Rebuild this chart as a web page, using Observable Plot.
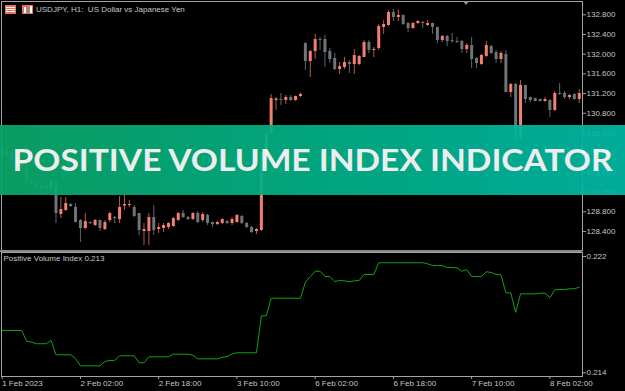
<!DOCTYPE html>
<html><head><meta charset="utf-8">
<script src="https://cdn.jsdelivr.net/npm/d3@7"></script>
<script src="https://cdn.jsdelivr.net/npm/@observablehq/plot@0.6"></script>
<style>
html,body{margin:0;padding:0;background:#000;width:625px;height:391px;overflow:hidden;}
#wrap{position:relative;width:625px;height:391px;font-family:"Liberation Sans",Arial,sans-serif;}
#top,#bottom{position:absolute;left:0;}
#top{top:0}#bottom{top:250px}
#sep{position:absolute;left:0;top:250px;width:582px;height:2px;background:#8a8a8a;}
#hdr{position:absolute;left:36px;top:5px;color:#c8c8c8;font-size:8px;line-height:10px;white-space:pre;}
#icons{position:absolute;left:5px;top:5px;}
#tri{position:absolute;left:463px;top:1px;width:0;height:0;border-left:3px solid transparent;border-right:3px solid transparent;border-top:4px solid #9a9a9a;}
#banner{position:absolute;left:0;top:125px;width:625px;height:70px;background:linear-gradient(90deg,#0aa86a 0%,#03b187 50%,#00b8a5 100%);opacity:.93;}
</style></head>
<body><div id="wrap">
<div id="top"></div><div id="bottom"></div><div id="sep"></div>
<svg id="icons" width="30" height="10">
  <rect x="0" y="0" width="11" height="9" fill="#e8705f"/>
  <rect x="1" y="2" width="9" height="1" fill="#fff"/><rect x="1" y="4" width="9" height="1" fill="#fff"/><rect x="1" y="6" width="9" height="1" fill="#fff"/>
  <rect x="17" y="0" width="11" height="9" fill="#e8705f"/>
  <rect x="19" y="2" width="2" height="6" fill="#fff"/><rect x="22" y="4" width="2" height="4" fill="#2bb6a8"/><rect x="25" y="1" width="2" height="7" fill="#fff"/>
</svg>
<div id="hdr"></div>
<div id="tri"></div>
<div id="banner"><svg width="625" height="70"><text x="312.5" y="46" text-anchor="middle" textLength="600" lengthAdjust="spacingAndGlyphs" fill="#fff" font-family="Lato, 'Open Sans', sans-serif" font-weight="700" font-size="30.5">POSITIVE VOLUME INDEX INDICATOR</text></svg></div>
</div>
<script>
const headerText = "USDJPY, H1:  US Dollar vs Japanese Yen";
const indicatorLabel = "Positive Volume Index 0.213";
const priceTicks = [128.4, 128.8, 129.2, 129.6, 130.0, 130.4, 130.8, 131.2, 131.6, 132.0, 132.4, 132.8];
const pviTicks = [0.222, 0.214];
const tickIdx = [0, 16, 32, 48, 64, 80, 96, 112];
const tickLabels = ["1 Feb 2023", "2 Feb 02:00", "2 Feb 18:00", "3 Feb 10:00", "6 Feb 02:00", "6 Feb 18:00", "7 Feb 10:00", "8 Feb 02:00"];

const open = [
130.05,129.95,130.00,129.85,129.80,129.72,129.40,129.35,129.28,129.31,
129.27,129.40,128.745,128.826,128.948,128.887,128.623,128.460,128.582,128.521,
128.623,128.440,128.623,128.684,128.643,128.917,128.927,128.887,128.765,128.399,
128.399,128.684,128.440,128.460,128.480,128.501,128.623,128.765,128.684,128.643,
128.765,128.623,128.724,128.582,128.541,128.562,128.602,128.562,128.582,128.704,
128.562,128.480,128.399,128.42,130.00,130.40,131.06,131.080,131.060,131.121,
131.060,131.141,132.217,131.852,132.055,132.298,132.298,132.055,131.913,131.689,
131.730,131.831,131.791,131.791,131.933,132.238,132.075,132.116,132.542,132.583,
132.847,132.745,132.786,132.623,132.522,132.623,132.644,132.583,132.623,132.542,
132.278,132.359,132.278,132.258,132.258,132.095,132.177,131.913,131.791,131.953,
132.156,132.034,131.892,131.994,131.222,131.385,130.30,131.364,131.121,131.100,
131.080,131.040,131.060,130.857,131.202,131.202,131.121,131.182,131.080];
const close = [
129.95,130.02,129.85,129.80,129.72,129.40,129.35,129.28,129.31,129.27,
129.42,128.765,128.846,128.968,128.907,128.582,128.460,128.602,128.562,128.623,
128.460,128.582,128.765,128.663,128.887,128.948,128.948,128.704,128.419,128.440,
128.684,128.419,128.480,128.521,128.562,128.663,128.765,128.684,128.643,128.765,
128.582,128.745,128.562,128.541,128.582,128.643,128.562,128.643,128.724,128.562,
128.480,128.379,128.440,130.00,130.38,131.100,131.09,131.060,131.121,131.060,
131.141,131.182,131.852,132.055,132.298,132.278,132.034,131.892,131.689,131.750,
131.831,131.791,131.974,131.953,132.238,132.075,132.095,132.562,132.603,132.847,
132.745,132.786,132.603,132.522,132.623,132.664,132.623,132.623,132.542,132.278,
132.359,132.258,132.258,132.238,132.095,132.177,131.892,131.811,131.974,132.177,
132.014,131.892,132.014,131.222,131.385,130.30,131.364,131.080,131.060,131.040,
131.040,131.080,130.857,131.202,131.182,131.121,131.161,131.080,131.202];
const high = [
130.12,130.08,130.03,129.90,129.86,129.76,129.45,129.40,129.33,129.35,
129.48,129.45,129.090,129.090,128.968,128.968,128.643,128.765,128.602,128.643,
128.633,128.623,128.785,128.704,129.110,129.131,129.029,128.927,128.765,128.562,
128.765,128.927,128.562,128.562,128.582,128.684,128.785,128.826,128.704,128.785,
128.806,128.785,128.745,128.592,128.602,128.663,128.623,128.684,128.745,128.724,
128.582,128.501,128.460,130.05,130.45,131.182,131.12,131.202,131.161,131.161,
131.15,131.21,132.23,132.075,132.400,132.339,132.380,132.116,132.014,131.831,
131.933,131.872,132.095,131.974,132.278,132.278,132.136,132.603,132.684,132.887,
132.908,132.897,132.80,132.644,132.644,132.684,132.664,132.684,132.63,132.55,
132.380,132.380,132.420,132.339,132.278,132.217,132.339,131.933,131.994,132.258,
132.177,132.075,132.055,132.075,131.405,131.405,131.466,131.37,131.13,131.11,
131.09,131.121,131.080,131.242,131.405,131.242,131.182,131.202,131.283];
const low = [
129.90,129.92,129.80,129.75,129.66,129.36,129.30,129.22,129.24,129.25,
129.22,128.562,128.663,128.806,128.887,128.572,128.176,128.440,128.541,128.501,
128.399,128.419,128.582,128.562,128.562,128.826,128.887,128.684,128.318,128.115,
128.115,128.318,128.359,128.379,128.440,128.480,128.602,128.663,128.623,128.623,
128.562,128.582,128.521,128.480,128.521,128.541,128.541,128.521,128.562,128.541,
128.460,128.359,128.338,128.40,129.85,130.35,130.857,130.958,130.979,131.040,
131.040,131.121,131.669,131.527,131.892,132.075,131.730,131.811,131.669,131.588,
131.689,131.608,131.588,131.771,131.933,132.014,131.933,132.075,132.400,132.562,
132.664,132.664,132.583,132.441,132.501,132.603,132.522,132.562,132.400,132.217,
132.238,132.156,132.217,132.217,132.014,132.014,131.710,131.710,131.771,131.933,
131.994,131.811,131.811,131.21,131.121,130.20,130.25,130.999,131.020,131.03,
131.03,131.020,130.714,130.837,131.161,131.080,131.080,131.060,130.999];
const pvi = [
0.21691,0.21691,0.21691,0.21691,0.21691,0.21617,0.21611,0.21600,0.21600,0.21600,
0.21622,0.21524,0.21524,0.21524,0.21524,0.21498,0.21448,0.21448,0.21448,0.21448,
0.21448,0.21478,0.21485,0.21485,0.21517,0.21517,0.21517,0.21517,0.21469,0.21469,
0.21510,0.21510,0.21510,0.21510,0.21510,0.21528,0.21528,0.21528,0.21528,0.21521,
0.21496,0.21496,0.21496,0.21496,0.21496,0.21507,0.21512,0.21530,0.21538,0.21538,
0.21538,0.21538,0.21538,0.21792,0.21792,0.21913,0.21913,0.21913,0.21913,0.21913,
0.21913,0.21913,0.22023,0.22062,0.22099,0.22099,0.22062,0.22062,0.22028,0.22035,
0.22033,0.22026,0.22033,0.22035,0.22076,0.22076,0.22076,0.22157,0.22157,0.22157,
0.22157,0.22157,0.22157,0.22157,0.22157,0.22157,0.22157,0.22150,0.22138,0.22138,
0.22138,0.22124,0.22124,0.22122,0.22099,0.22109,0.22062,0.22062,0.22062,0.22095,
0.22090,0.22076,0.22074,0.21950,0.21950,0.21815,0.21943,0.21943,0.21943,0.21943,
0.21948,0.21948,0.21916,0.21971,0.21973,0.21973,0.21978,0.21978,0.21989];

document.getElementById("hdr").textContent = headerText;

const upBody = "#f47f70", downBody = "#6d757b", upWick = "#b8574b", downWick = "#5f666c";
const txt = "#c6c6c6", frameCol = "#a4a4a4";
const font = {background: "transparent", color: txt, fontFamily: "'Liberation Sans', Arial, sans-serif", fontSize: "8px", overflow: "visible"};
const bars = open.map((o, i) => ({i, o, h: high[i], l: low[i], c: close[i]}));
const ups = bars.filter(d => d.c >= d.o), downs = bars.filter(d => d.c < d.o);
const xDomain = [-0.14, 118.67];

const upper = Plot.plot({
  width: 625, height: 251,
  marginTop: 1, marginBottom: 1, marginLeft: 1, marginRight: 43,
  style: font,
  x: {domain: xDomain, axis: null},
  y: {domain: [128.014, 133.07], axis: null},
  marks: [
    Plot.ruleX(downs, {x: "i", y1: "l", y2: "h", stroke: downWick}),
    Plot.ruleX(ups, {x: "i", y1: "l", y2: "h", stroke: upWick}),
    Plot.ruleX(downs, {x: "i", y1: "o", y2: "c", stroke: downBody, strokeWidth: 3}),
    Plot.ruleX(ups, {x: "i", y1: "o", y2: "c", stroke: upBody, strokeWidth: 3}),
    Plot.frame({stroke: frameCol}),
    Plot.axisY(priceTicks, {anchor: "right", tickSize: 3, tickPadding: 1, label: null, tickFormat: d => d.toFixed(3), stroke: frameCol, fill: txt})
  ]
});
document.getElementById("top").append(upper);

const lower = Plot.plot({
  width: 625, height: 141,
  marginTop: 2, marginBottom: 15, marginLeft: 1, marginRight: 43,
  style: font,
  x: {domain: xDomain, axis: null},
  y: {domain: [0.213746, 0.222275], axis: null},
  marks: [
    Plot.line(pvi, {x: (d, i) => i, y: d => d, stroke: "#12a312", strokeWidth: 1}),
    Plot.frame({stroke: frameCol}),
    Plot.text([indicatorLabel], {frameAnchor: "top-left", text: d => d, dx: 2, dy: 3, lineAnchor: "top", textAnchor: "start", fill: txt}),
    Plot.axisY(pviTicks, {anchor: "right", tickSize: 3, tickPadding: 1, label: null, tickFormat: d => d.toFixed(3), stroke: frameCol, fill: txt}),
    Plot.axisX(tickIdx, {anchor: "bottom", tickSize: 3, tickPadding: 1, label: null, textAnchor: "start", tickFormat: d => tickLabels[tickIdx.indexOf(d)], stroke: frameCol, fill: txt})
  ]
});
document.getElementById("bottom").append(lower);
</script>
</body></html>
